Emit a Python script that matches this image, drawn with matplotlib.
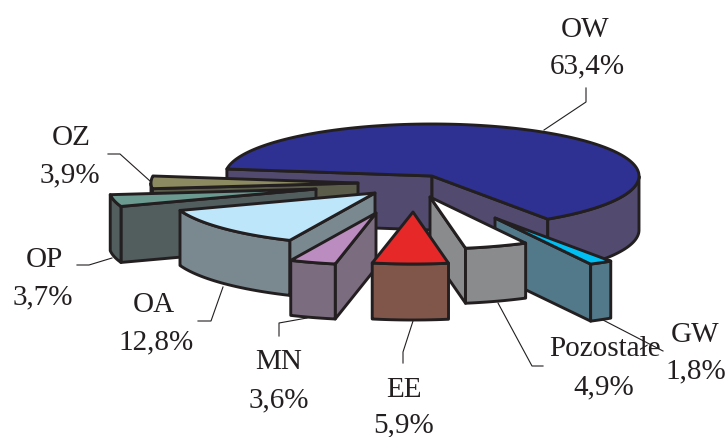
#!/usr/bin/env python3
"""Exploded 3D pie, drawn by hand in pixel coordinates (matplotlib has no 3D pie)."""
import numpy as np
import matplotlib
matplotlib.use("Agg")
import matplotlib.pyplot as plt

# shares in %, counterclockwise starting from OW
names = ["OW", "OZ", "OP", "OA", "MN", "EE", "Pozostałe", "GW"]
shares = [63.4, 3.9, 3.7, 12.8, 3.6, 5.9, 4.9, 1.8]
share_labels = ["63,4%", "3,9%", "3,7%", "12,8%", "3,6%", "5,9%", "4,9%", "1,8%"]

START = -56.0
RX, RY = 207, 52
EDGE = "#231f20"
W, H = 727, 437

top_colors = ["#2e3192", "#8c8a60", "#6a9a90", "#bee6fa",
              "#bb8cc0", "#e62828", "#ffffff", "#00bff3"]
side_colors = ["#524a6f", "#5c5c4a", "#525d5e", "#7a8890",
               "#7c6c80", "#80564a", "#8a8b8d", "#52798a"]
# where each slice's tip ended up after exploding, and its wall height
tips = [(432, 176), (358, 183), (316, 189), (375, 193),
        (376, 213), (413, 212), (430, 197), (495, 218)]
depths = [54, 54, 56, 55, 55, 56, 55, 57]
draw_order = [0, 1, 2, 3, 4, 7, 6, 5]

# name baseline, value baseline, leader line
label_pos = {
    "OW": ((585, 37), (587, 73), [(544, 130), (586, 102), (586, 88)]),
    "OZ": ((71, 145), (70, 182), [(150, 181), (120, 154), (108, 154)]),
    "OP": ((44, 267), (43, 304), [(112, 258), (89, 265), (77, 265)]),
    "OA": ((154, 312), (156, 349), [(223, 287), (211, 321), (198, 321)]),
    "MN": ((279, 369), (279, 407), [(307, 318), (279, 323), (279, 336)]),
    "EE": ((404, 397), (404, 432), [(413, 321), (403, 352), (403, 363)]),
    "Pozostałe": ((605, 356), (604, 394), [(498, 303), (532, 366), (543, 366)]),
    "GW": ((695, 342), (696, 378), [(603, 320), (663, 351)]),
}


def arc(tip, a1, a2, n=80):
    t = np.radians(np.linspace(a1, a2, n))
    return tip[0] + RX * np.cos(t), tip[1] - RY * np.sin(t)


def poly(ax, xs, ys, color, z):
    ax.fill(xs, ys, facecolor=color, edgecolor=EDGE, linewidth=2.1,
            joinstyle="round", zorder=z)


def draw_slice(ax, i, a1, a2, z):
    tip, d, side = tips[i], depths[i], side_colors[i]
    ax1, ay1 = arc(tip, a1, a1, 1)
    ax2, ay2 = arc(tip, a2, a2, 1)
    # radial walls, only the ones turned to the viewer
    if np.cos(np.radians(a2)) < 0:
        xs = [tip[0], ax2[0], ax2[0], tip[0]]
        ys = [tip[1], ay2[0], ay2[0] + d, tip[1] + d]
        poly(ax, xs, ys, side, z)
    if np.cos(np.radians(a1)) > 0:
        xs = [tip[0], ax1[0], ax1[0], tip[0]]
        ys = [tip[1], ay1[0], ay1[0] + d, tip[1] + d]
        poly(ax, xs, ys, side, z)
    # outer wall: front half of the rim only
    grid = np.linspace(a1, a2, 300)
    front = grid[np.sin(np.radians(grid)) <= 0]
    if front.size > 1:
        for part in np.split(front, np.where(np.diff(front) > 1)[0] + 1):
            rx, ry = arc(tip, part[0], part[-1])
            poly(ax, np.r_[rx, rx[::-1]], np.r_[ry, ry[::-1] + d], side, z + 0.1)
    # top face
    rx, ry = arc(tip, a1, a2, 200)
    poly(ax, np.r_[tip[0], rx], np.r_[tip[1], ry], top_colors[i], z + 0.2)


fig = plt.figure(figsize=(W / 100, H / 100), dpi=100)
ax = fig.add_axes([0, 0, 1, 1])
ax.set_xlim(0, W)
ax.set_ylim(H, 0)
ax.axis("off")

edges = START + np.r_[0, np.cumsum(shares)] * 3.6
for z, i in enumerate(draw_order):
    draw_slice(ax, i, edges[i], edges[i + 1], 3 + z)

for name, value in zip(names, share_labels):
    name_xy, value_xy, leader = label_pos[name]
    lx, ly = zip(*leader)
    ax.plot(lx, ly, color=EDGE, linewidth=0.8, zorder=2 if name != "GW" else 20)
    for s, xy in ((name, name_xy), (value, value_xy)):
        ax.text(xy[0], xy[1], s, ha="center", va="baseline", fontsize=21,
                family="Liberation Serif", color=EDGE, zorder=30)

fig.savefig("out.png", dpi=100, facecolor="white")
